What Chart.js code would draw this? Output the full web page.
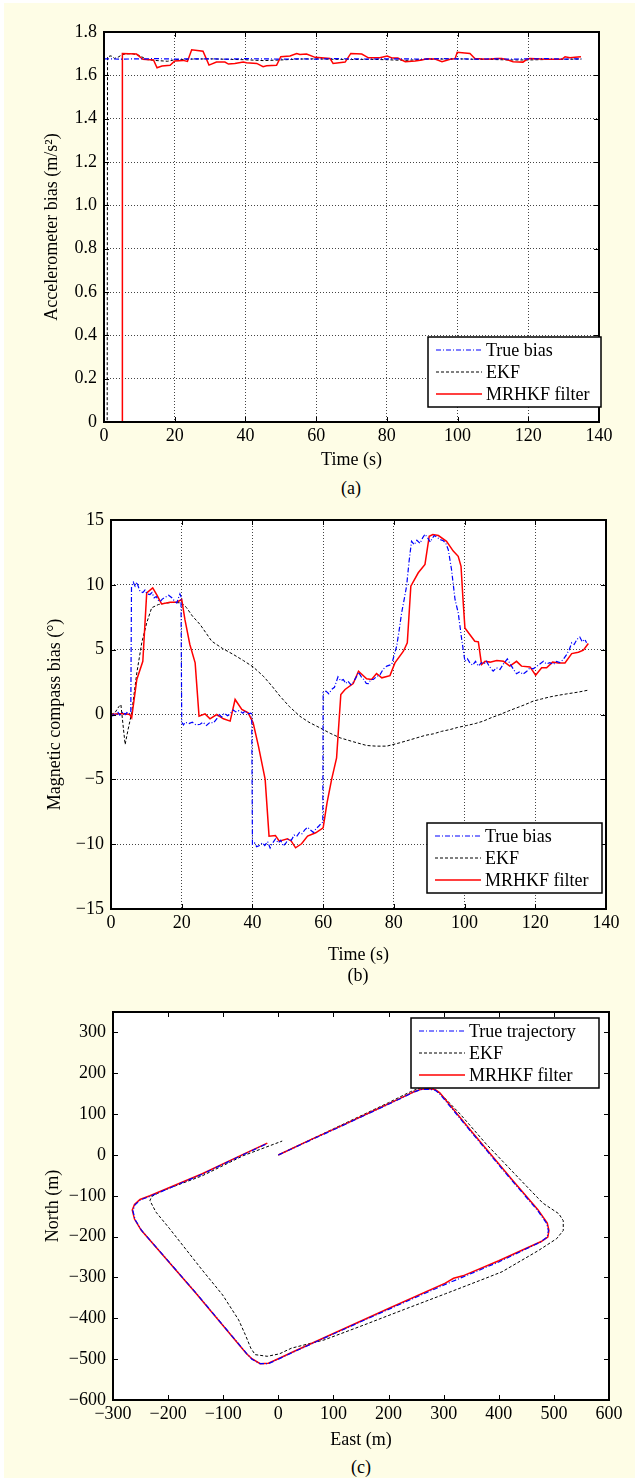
<!DOCTYPE html>
<html>
<head>
<meta charset="utf-8">
<title>Bias estimation and trajectory</title>
<script src="https://cdn.jsdelivr.net/npm/chart.js@4.4.1/dist/chart.umd.min.js"></script>
<style>
    html, body { margin: 0; padding: 0; background: #fff; }
    #page { position: absolute; left: 4px; top: 3px; width: 631px; height: 1475px; background: #fefde6; }
    .panel { position: absolute; left: 0; width: 635px; }
    .caption {
        position: absolute; width: 60px; margin-left: -30px; text-align: center;
        font: 18px "Liberation Serif", "Times New Roman", serif; color: #000; line-height: 20px;
    }
</style>
</head>
<body>
<div id="page"></div>
<div class="panel" style="top:0; height:471px"><canvas id="chartAcc"></canvas></div>
<div class="caption" style="left:351px; top:478px">(a)</div>
<div class="panel" style="top:490px; height:476px"><canvas id="chartMag"></canvas></div>
<div class="caption" style="left:358px; top:965px">(b)</div>
<div class="panel" style="top:985px; height:466px"><canvas id="chartTraj"></canvas></div>
<div class="caption" style="left:361px; top:1457px">(c)</div>

<script>
// ================================================
//  Data
// ================================================

// (a) accelerometer bias, m/s^2 against time, s
const accTicksX = [0, 20, 40, 60, 80, 100, 120, 140];
const accTicksY = [0, 0.2, 0.4, 0.6, 0.8, 1.0, 1.2, 1.4, 1.6, 1.8];

const accTrueT = [0, 5, 10, 15, 20, 25, 30, 35, 40, 45, 50, 55, 60, 65, 70, 75, 80, 85, 90, 95,
                  100, 105, 110, 115, 120, 125, 130, 135];
const accTrueV = [1.676, 1.675, 1.676, 1.677, 1.675, 1.676, 1.676, 1.675, 1.677, 1.676, 1.675, 1.676, 1.675, 1.677,
                  1.676, 1.675, 1.676, 1.676, 1.675, 1.677, 1.676, 1.675, 1.676, 1.675, 1.676, 1.677, 1.675, 1.676];

const accEkfT = [0, 0.9, 1.0, 2, 3, 4, 5, 6, 8, 10,
                 12, 15, 18, 20, 25, 30, 35, 40, 45, 50,
                 55, 60, 65, 70, 75, 80, 85, 90, 95, 100,
                 105, 110, 115, 120, 125, 130, 135];
const accEkfV = [0, 0, 1.686, 1.690, 1.678, 1.684, 1.694, 1.699, 1.700, 1.692,
                 1.673, 1.668, 1.665, 1.672, 1.675, 1.676, 1.674, 1.672, 1.668, 1.671,
                 1.675, 1.676, 1.674, 1.673, 1.674, 1.672, 1.669, 1.673, 1.675, 1.676,
                 1.674, 1.673, 1.671, 1.671, 1.673, 1.674, 1.675];

const accMrhkfT = [0, 5.1, 5.2, 9.2, 11, 14, 15, 16.4, 18.7, 20,
                   22.4, 23.6, 24.8, 28, 29.7, 31.8, 34.2, 35.2, 37, 39.4,
                   40.3, 43.2, 45, 46, 48.8, 50, 52.6, 54.5, 55.4, 57.3,
                   59.7, 63.9, 64.8, 68.2, 69.8, 72.9, 74.8, 78, 80.1, 81.4,
                   83.1, 85.2, 88, 89.9, 91.3, 93.6, 95.6, 97.9, 99.3, 99.9,
                   103.5, 104.9, 108.3, 111.1, 112.5, 114.3, 115.7, 118.5, 119.6, 120.5,
                   125.2, 129.5, 130.4, 131.8, 133.2, 134.9];
const accMrhkfV = [0, 0, 1.701, 1.698, 1.674, 1.671, 1.635, 1.643, 1.646, 1.666,
                   1.669, 1.664, 1.718, 1.711, 1.647, 1.661, 1.661, 1.652, 1.655, 1.661,
                   1.658, 1.655, 1.640, 1.644, 1.646, 1.686, 1.689, 1.701, 1.696, 1.698,
                   1.683, 1.678, 1.655, 1.661, 1.701, 1.698, 1.681, 1.681, 1.689, 1.680,
                   1.680, 1.663, 1.666, 1.671, 1.677, 1.675, 1.663, 1.674, 1.677, 1.706,
                   1.701, 1.678, 1.674, 1.678, 1.678, 1.671, 1.663, 1.661, 1.674, 1.678,
                   1.674, 1.674, 1.686, 1.681, 1.683, 1.686];

// (b) magnetic compass bias, degrees against time, s
const magTicksX = [0, 20, 40, 60, 80, 100, 120, 140];
const magTicksY = [-15, -10, -5, 0, 5, 10, 15];

const magTrueT = [0, 0.5, 1, 1.5, 2, 2.5, 3, 3.5, 4, 4.5,
                  5, 5.6, 5.8, 6.3, 6.8, 7.3, 7.8, 8.2, 9, 9.6,
                  10.2, 11, 11.6, 12.2, 12.8, 13.4, 13.9, 14.5, 15.1, 15.7,
                  16.3, 17.2, 17.8, 18.6, 19.1, 19.5, 19.8, 20, 20.5, 21,
                  22, 23, 24, 25.2, 26, 27, 28, 29, 30, 30.5,
                  31.3, 32, 33, 33.7, 34.6, 35.3, 36, 36.5, 37.3, 38,
                  38.6, 39.5, 39.8, 40, 40.6, 41.2, 42, 42.8, 43.5, 44.3,
                  45, 45.5, 46.5, 47.3, 48, 48.7, 49.5, 50.2, 51, 51.8,
                  52.5, 53.3, 54, 54.8, 55.6, 56.4, 57.3, 58, 58.8, 59.6,
                  59.9, 60, 60.8, 61.6, 62.4, 63.2, 64.2, 65, 65.7, 66.4,
                  67, 67.8, 68.5, 69.2, 70, 70.8, 71.5, 72.2, 72.8, 73.5,
                  74.2, 75, 76.1, 77, 78, 79.4, 80.1, 80.8, 81.5, 82.2,
                  83, 83.6, 84.3, 85, 85.8, 86.5, 87.4, 88.1, 88.8, 89.6,
                  90.3, 90.7, 91.4, 92.1, 93, 94, 94.7, 95.4, 96.3, 97.3,
                  98.2, 99.2, 100.1, 100.8, 101.5, 102.3, 103.1, 103.9, 104.8, 105.5,
                  106.2, 107, 108.1, 109, 110, 111, 112.1, 112.9, 113.8, 114.7,
                  115.6, 116.5, 117.6, 118.5, 119.4, 120.3, 121.3, 122.3, 123.2, 124.1,
                  125.1, 126, 126.9, 127.9, 128.8, 129.6, 130.3, 131, 131.8, 132.6,
                  133.3, 134, 134.5];
const magTrueV = [0.05, -0.1, 0.1, 0, 0.15, -0.05, 0.1, 0.2, 0, 0.15,
                  0.05, 0.1, 9.9, 10.2, 9.9, 10.2, 9.8, 9.5, 9.4, 9.6,
                  9.3, 9.25, 9.4, 9.0, 9.1, 8.8, 8.7, 8.9, 9.0, 9.1,
                  9.2, 9.0, 8.8, 8.6, 9.0, 9.3, 9.1, -0.6, -0.8, -0.6,
                  -0.7, -0.6, -0.8, -0.75, -0.6, -0.85, -0.6, -0.65, -0.3, 0.05,
                  -0.2, 0.1, -0.1, 0.05, 0.35, 0.2, 0.3, 0.25, 0.1, 0.3,
                  0.05, 0.1, 0.05, -10.0, -9.9, -10.2, -10.1, -9.9, -10.1, -9.8,
                  -10.3, -10.0, -9.6, -9.9, -9.7, -10.15, -9.9, -9.6, -9.7, -9.3,
                  -9.4, -9.1, -9.2, -8.9, -8.7, -8.9, -9.1, -8.8, -8.6, -8.35,
                  -8.3, 1.7, 1.8, 1.6, 1.93, 2.1, 2.9, 2.6, 2.7, 2.4,
                  2.57, 2.3, 2.5, 2.8, 3.26, 2.9, 2.7, 2.4, 2.39, 2.7,
                  2.7, 2.9, 3.08, 3.5, 3.73, 3.86, 4.6, 5.27, 6.5, 7.84,
                  9.0, 9.9, 11.8, 13.36, 13.1, 13.44, 13.2, 13.6, 13.9, 13.6,
                  13.3, 13.5, 13.8, 13.7, 13.5, 13.4, 13.2, 12.7, 11.2, 8.87,
                  7.84, 5.78, 4.1, 4.3, 3.98, 3.8, 4.1, 3.73, 4.0, 3.9,
                  4.1, 3.7, 3.34, 3.6, 3.47, 3.9, 4.29, 3.9, 3.5, 3.14,
                  3.3, 3.1, 3.34, 3.6, 3.52, 3.7, 3.9, 4.1, 3.9, 4.0,
                  3.86, 4.1, 4.0, 4.24, 4.6, 5.0, 5.53, 5.4, 5.8, 5.97,
                  5.6, 5.8, 5.53];

const magEkfT = [0, 1.1, 2.2, 2.8, 3.4, 4, 4.8, 5.85, 7.3, 8.7,
                 10.1, 11.5, 13.4, 15.7, 18, 20, 21.4, 23, 25.2, 28.5,
                 31.5, 34.6, 37.5, 40.2, 43.1, 45.5, 47.8, 50.5, 53.4, 56,
                 59.1, 62, 64.8, 68.5, 72.3, 75, 78, 81.7, 84, 86.5,
                 89, 91.2, 93.5, 95.9, 98, 100.6, 103, 105.3, 107.5, 110,
                 112.5, 114.7, 117, 119.4, 121.8, 124.2, 126.5, 128.9, 132, 135];
const magEkfV = [0, 0.13, 0.6, 0.77, -0.8, -2.31, -1.2, 0.13, 3.21, 5.53,
                 7.07, 8.23, 8.48, 8.6, 8.65, 8.6, 8.23, 7.6, 6.94, 5.65,
                 5.1, 4.63, 4.15, 3.67, 2.95, 2.2, 1.41, 0.6, -0.13, -0.6,
                 -1.03, -1.45, -1.8, -2.1, -2.39, -2.44, -2.44, -2.18, -2.0, -1.8,
                 -1.6, -1.49, -1.3, -1.16, -1.0, -0.85, -0.7, -0.51, -0.25, 0,
                 0.28, 0.51, 0.75, 1.03, 1.2, 1.36, 1.48, 1.59, 1.72, 1.88];

const magMrhkfT = [0, 2, 4, 5.3, 5.85, 7.3, 9, 10.1, 11.8, 13,
                   14.3, 16.7, 18.6, 20, 20.9, 22.3, 23.8, 24.9, 26.6, 28,
                   29.9, 31.8, 33.7, 35.1, 37, 38.8, 40.2, 41.7, 43.6, 44.7,
                   46.5, 47.6, 49.9, 51, 52.2, 53.9, 55.6, 57.9, 60, 61.1,
                   62.4, 63.8, 65, 66.2, 68.5, 70, 72.3, 73.7, 75.1, 76.6,
                   78.9, 80.3, 82.7, 83.8, 84.8, 86.9, 88.8, 90, 91, 92.6,
                   94.9, 96.8, 98.2, 99, 99.5, 100.1, 101.1, 102.9, 103.9, 104.8,
                   105.8, 107.2, 109.1, 111, 112.8, 114.7, 116.1, 118.5, 120.1, 121.8,
                   123.2, 124.9, 126.5, 128.4, 130.3, 132.2, 133.6, 135];
const magMrhkfV = [0, 0.05, 0.05, 0, -0.25, 2.7, 4.1, 9.38, 9.77, 9.2,
                   8.53, 8.66, 8.66, 8.87, 7.33, 5.4, 3.98, -0.13, 0.05, -0.33,
                   0, -0.33, -0.51, 1.16, 0.39, 0.13, -0.64, -2.44, -5.0, -9.38,
                   -9.33, -9.77, -9.58, -9.77, -10.28, -9.97, -9.38, -9.12, -8.74, -6.81,
                   -5.0, -3.34, 1.54, 1.93, 2.39, 3.34, 2.75, 2.7, 3.16, 2.83,
                   3.0, 3.98, 4.88, 5.53, 9.9, 10.93, 11.57, 13.75, 13.88, 13.8,
                   13.36, 12.6, 12.2, 11.43, 9.12, 6.68, 6.3, 5.65, 5.6, 3.86,
                   4.1, 4.04, 4.16, 4.1, 3.73, 4.1, 3.73, 3.67, 3.03, 3.6,
                   3.6, 4.04, 3.98, 3.98, 4.7, 4.8, 4.96, 5.47];

// (c) trajectory, metres east / north
const trajTicksX = [-300, -200, -100, 0, 100, 200, 300, 400, 500, 600];
const trajTicksY = [-600, -500, -400, -300, -200, -100, 0, 100, 200, 300];

const trueEast  = [0, 60, 120, 171, 220, 244, 258, 272, 284, 292,
                   350, 424, 470, 487, 490, 488, 476, 400, 303, 200,
                   97, 30, 0, -18, -33, -48, -57, -150, -248, -260,
                   -264, -260, -250, -232, -138, -60, -20];
const trueNorth = [0, 37, 74, 106, 137, 153, 160, 161, 159, 151,
                   56, -63, -135, -168, -185, -201, -213, -262, -317, -378,
                   -440, -481, -500, -511, -511, -500, -487, -337, -185, -158,
                   -136, -122, -110, -101, -47, 3, 28];

const ekfEast  = [0, 100, 200, 240, 262, 276, 295, 330, 377, 435,
                  480, 509, 517, 517, 505, 472, 406, 376, 303, 229,
                  156, 83, 24, 2, -20, -42, -50, -60, -72, -101,
                  -138, -197, -222, -233, -230, -211, -138, -64, 7];
const ekfNorth = [0, 64, 128, 155, 167, 166, 149, 100, 27, -55,
                  -118, -144, -161, -185, -205, -234, -286, -302, -340, -378,
                  -416, -453, -473, -487, -493, -489, -473, -440, -404, -343,
                  -282, -181, -140, -112, -102, -88, -51, -2, 34];

const mrhkfEast  = [0, 60, 120, 171, 220, 245, 259, 273, 285, 293,
                    351, 425, 471, 488, 491, 489, 477, 400, 335, 318,
                    303, 200, 97, 30, 0, -18, -33, -48, -58, -151,
                    -249, -261, -265, -261, -251, -233, -138, -60, -20];
const mrhkfNorth = [0, 38, 75, 107, 138, 154, 161, 162, 160, 152,
                    57, -62, -134, -167, -185, -201, -212, -259, -296, -302,
                    -314, -376, -439, -480, -499, -510, -511, -499, -486, -336,
                    -184, -157, -135, -121, -109, -100, -46, 4, 29];

// ================================================
//  Styles
// ================================================
Chart.defaults.font.family = '"Liberation Serif", "Times New Roman", serif';
Chart.defaults.font.size = 18;
Chart.defaults.color = '#000';

// lower order is drawn on top: blue over red over black
const STYLE_TRUE  = { borderColor: '#0000ff', borderWidth: 1.2, borderDash: [5, 2, 1, 2], order: 0 };
const STYLE_EKF   = { borderColor: '#000000', borderWidth: 1,   borderDash: [3, 2],       order: 2 };
const STYLE_MRHKF = { borderColor: '#ff0000', borderWidth: 1.5, borderDash: [],           order: 1 };

const minus = v => String(v).replace('-', '\u2212');

// ------------------------------------------------
// White plot area, closed frame, inward ticks and
// the boxed legend inside the plot
// ------------------------------------------------
const matlabBox = {
    id: 'matlabBox',
    beforeDraw(chart) {
        const { ctx, chartArea: a } = chart;
        ctx.save();
        ctx.fillStyle = '#fff';
        ctx.fillRect(a.left, a.top, a.right - a.left, a.bottom - a.top);
        ctx.restore();
    },
    afterDraw(chart, args, opts) {
        const { ctx, chartArea: a, scales: { x, y } } = chart;
        const len = 5;
        ctx.save();
        ctx.setLineDash([]);
        ctx.strokeStyle = '#000';
        ctx.lineWidth = 1;
        ctx.beginPath();
        x.ticks.forEach(t => {
            const px = Math.round(x.getPixelForValue(t.value)) + 0.5;
            ctx.moveTo(px, a.bottom); ctx.lineTo(px, a.bottom - len);
            ctx.moveTo(px, a.top);    ctx.lineTo(px, a.top + len);
        });
        y.ticks.forEach(t => {
            const py = Math.round(y.getPixelForValue(t.value)) + 0.5;
            ctx.moveTo(a.left, py);  ctx.lineTo(a.left + len, py);
            ctx.moveTo(a.right, py); ctx.lineTo(a.right - len, py);
        });
        ctx.stroke();
        ctx.lineWidth = 2;
        ctx.strokeRect(a.left, a.top, a.right - a.left, a.bottom - a.top);

        // legend
        const h = 70;
        const left = a.right + opts.right - opts.width;
        const top = opts.top !== undefined ? a.top + opts.top : a.bottom - opts.bottom - h;
        ctx.fillStyle = '#fff';
        ctx.fillRect(left, top, opts.width, h);
        ctx.lineWidth = 1.5;
        ctx.strokeRect(left, top, opts.width, h);
        ctx.font = '18px "Liberation Serif", "Times New Roman", serif';
        ctx.textBaseline = 'middle';
        ctx.textAlign = 'left';
        chart.data.datasets.forEach((ds, i) => {
            const yy = top + 13 + i * 22;
            ctx.beginPath();
            ctx.setLineDash(ds.borderDash);
            ctx.strokeStyle = ds.borderColor;
            ctx.lineWidth = ds.borderWidth;
            ctx.moveTo(left + 8, yy);
            ctx.lineTo(left + 54, yy);
            ctx.stroke();
            ctx.setLineDash([]);
            ctx.fillStyle = '#000';
            ctx.fillText(ds.label, left + 58, yy + 1);
        });
        ctx.restore();
    }
};

function lineSet(label, xs, ys, style) {
    return {
        label,
        data: xs.map((x, i) => ({ x, y: ys[i] })),
        ...style,
        showLine: true,
        pointRadius: 0,
        tension: 0,
        fill: false
    };
}

function makePanel(canvasId, datasets, p) {
    const axis = (ticks, fmt, extra) => ({
        type: 'linear',
        min: p[extra.key + 'Min'],
        max: p[extra.key + 'Max'],
        afterBuildTicks: s => { s.ticks = ticks.map(v => ({ value: v })); },
        afterFit: extra.fit,
        grid:   { display: p.grid, color: '#444', lineWidth: 1, drawTicks: false },
        border: { display: false, dash: [1, 2] },
        ticks:  { color: '#000', padding: extra.pad, autoSkip: false, maxRotation: 0, callback: fmt },
        title:  { display: true, text: extra.title, color: '#000', padding: extra.titlePad }
    });

    return new Chart(document.getElementById(canvasId), {
        type: 'scatter',
        data: { datasets },
        options: {
            responsive: true,
            maintainAspectRatio: false,
            animation: false,
            layout: { padding: { left: 0, top: p.padTop, right: p.padRight, bottom: 0 } },
            plugins: {
                legend:  { display: false },
                tooltip: { enabled: false },
                matlabBox: p.legend
            },
            scales: {
                x: axis(p.ticksX, p.fmtX, {
                    key: 'x', title: p.titleX, pad: 3, titlePad: 0,
                    fit: s => { s.height = p.xHeight; }
                }),
                y: axis(p.ticksY, p.fmtY, {
                    key: 'y', title: p.titleY, pad: 7, titlePad: { top: p.yTitleLeft, bottom: 0 },
                    fit: s => { s.width = p.yWidth; }
                })
            }
        },
        plugins: [matlabBox]
    });
}

// ------------------------------------------------
// (a) accelerometer bias
// ------------------------------------------------
makePanel('chartAcc', [
    lineSet('True bias',    accTrueT,  accTrueV,  STYLE_TRUE),
    lineSet('EKF',          accEkfT,   accEkfV,   STYLE_EKF),
    lineSet('MRHKF filter', accMrhkfT, accMrhkfV, STYLE_MRHKF)
], {
    xMin: 0, xMax: 140, yMin: 0, yMax: 1.8,
    ticksX: accTicksX, ticksY: accTicksY,
    fmtX: v => String(v),
    fmtY: v => (v === 0 ? '0' : v.toFixed(1)),
    titleX: 'Time (s)', titleY: 'Accelerometer bias (m/s\u00B2)',
    grid: true, padTop: 32, padRight: 36, xHeight: 49, yWidth: 104, yTitleLeft: 41,
    legend: { width: 173, right: 2, bottom: 15 }
});

// ------------------------------------------------
// (b) magnetic compass bias
// ------------------------------------------------
makePanel('chartMag', [
    lineSet('True bias',    magTrueT,  magTrueV,  STYLE_TRUE),
    lineSet('EKF',          magEkfT,   magEkfV,   STYLE_EKF),
    lineSet('MRHKF filter', magMrhkfT, magMrhkfV, STYLE_MRHKF)
], {
    xMin: 0, xMax: 140, yMin: -15, yMax: 15,
    ticksX: magTicksX, ticksY: magTicksY,
    fmtX: v => String(v), fmtY: minus,
    titleX: 'Time (s)', titleY: 'Magnetic compass bias (\u00B0)',
    grid: true, padTop: 30, padRight: 29, xHeight: 57, yWidth: 111, yTitleLeft: 44,
    legend: { width: 175, right: -4, bottom: 16 }
});

// ------------------------------------------------
// (c) trajectory
// ------------------------------------------------
makePanel('chartTraj', [
    lineSet('True trajectory', trueEast,  trueNorth,  STYLE_TRUE),
    lineSet('EKF',             ekfEast,   ekfNorth,   STYLE_EKF),
    lineSet('MRHKF filter',    mrhkfEast, mrhkfNorth, STYLE_MRHKF)
], {
    xMin: -300, xMax: 600, yMin: -600, yMax: 350,
    ticksX: trajTicksX, ticksY: trajTicksY,
    fmtX: minus, fmtY: minus,
    titleX: 'East (m)', titleY: 'North (m)',
    grid: false, padTop: 27, padRight: 26, xHeight: 51, yWidth: 113, yTitleLeft: 42,
    legend: { width: 188, right: -10, top: 6 }
});
</script>
</body>
</html>
